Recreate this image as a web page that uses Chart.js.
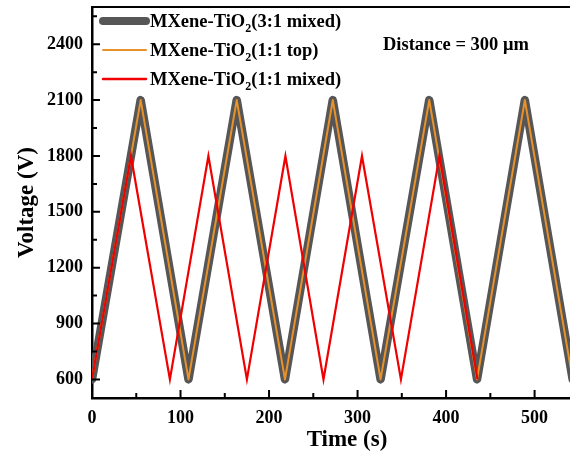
<!DOCTYPE html>
<html>
<head>
<meta charset="utf-8">
<script src="https://cdn.jsdelivr.net/npm/chart.js@4.4.1/dist/chart.umd.min.js"></script>
<style>
body{margin:0;background:#fff}
#wrap{width:570px;height:455px}
</style>
</head>
<body>
<div id="wrap"><canvas id="myChart" width="570" height="455"></canvas></div>
<script>
// data
var grayTime=[0,55,109,163.5,218,272,326,381,435,489,543]
var grayVolt=[600,2100,600,2100,600,2100,600,2100,600,2100,600]
var orangeTime=[0,55,109,163.5,218,272,326,381,435,489,543]
var orangeVolt=[600,2100,600,2100,600,2100,600,2100,600,2100,600]
var redTime=[0,44,88,131.5,175,218.5,261.5,305,349,392.5,435.5]
var redVolt=[600,1800,600,1800,600,1800,600,1800,600,1800,600]

var xTicks=[0,100,200,300,400,500]
var xMinor=[50,150,250,350,450]
var yTicks=[600,900,1200,1500,1800,2100,2400]
var yMinor=[750,1050,1350,1650,1950,2250,2550]

var serif="'Liberation Serif','Times New Roman',serif"

function pts(xs,ys){
    return xs.map(function(x,i){return {x:x,y:ys[i]}})
}

//Frame, inward ticks, legend and notes
var extras={
    id:'extras',
    afterDraw:function(chart){
        var c=chart.ctx, a=chart.chartArea, xs=chart.scales.x, ys=chart.scales.y
        c.save()
        c.strokeStyle='#000'
        c.lineWidth=2
        c.beginPath()
        c.moveTo(a.left-1,a.top)
        c.lineTo(a.right,a.top)
        xTicks.forEach(function(v){var p=xs.getPixelForValue(v);c.moveTo(p,a.bottom);c.lineTo(p,a.bottom-8)})
        xMinor.forEach(function(v){var p=xs.getPixelForValue(v);c.moveTo(p,a.bottom);c.lineTo(p,a.bottom-5)})
        yTicks.forEach(function(v){var p=ys.getPixelForValue(v);c.moveTo(a.left,p);c.lineTo(a.left+8,p)})
        yMinor.forEach(function(v){var p=ys.getPixelForValue(v);c.moveTo(a.left,p);c.lineTo(a.left+5,p)})
        c.stroke()

        // legend
        var rows=[27,56,85]
        chart.data.datasets.forEach(function(ds,i){
            var base=rows[i]
            c.beginPath()
            c.strokeStyle=ds.borderColor
            c.lineWidth=ds.legendWidth
            c.lineCap='round'
            c.moveTo(103,base-6)
            c.lineTo(146,base-6)
            c.stroke()
            var parts=ds.label.split('\u2082')
            c.fillStyle='#000'
            c.textBaseline='alphabetic'
            c.textAlign='left'
            c.font='bold 18.5px '+serif
            var x=150
            c.fillText(parts[0],x,base)
            x+=c.measureText(parts[0]).width
            c.font='bold 12px '+serif
            c.fillText('2',x,base+5)
            x+=c.measureText('2').width
            c.font='bold 18.5px '+serif
            c.fillText(parts[1],x,base)
        })

        c.font='bold 18.5px '+serif
        c.fillText('Distance = 300 \u03bcm',383,50)

        c.font='bold 23px '+serif
        c.textAlign='center'
        c.fillText('Time (s)',347,446)
        c.restore()
    }
}

var ctx=document.getElementById('myChart')

new Chart(ctx,{
    type:'line',
    data:{
        datasets:[
            {
                label:'MXene-TiO\u2082(3:1 mixed)',
                data:pts(grayTime,grayVolt),
                borderColor:'#565656',
                borderWidth:8.5,
                legendWidth:8,
                borderCapStyle:'round',
                borderJoinStyle:'round',
                pointRadius:0,
                order:3
            },
            {
                label:'MXene-TiO\u2082(1:1 top)',
                data:pts(orangeTime,orangeVolt),
                borderColor:'#e8922a',
                borderWidth:2,
                legendWidth:2,
                borderJoinStyle:'round',
                pointRadius:0,
                order:2
            },
            {
                label:'MXene-TiO\u2082(1:1 mixed)',
                data:pts(redTime,redVolt),
                borderColor:'#f00000',
                borderWidth:2.2,
                legendWidth:2.5,
                borderJoinStyle:'miter',
                pointRadius:0,
                order:1
            }
        ]
    },
    options:{
        responsive:false,
        animation:false,
        layout:{padding:{top:7,right:0,left:0,bottom:0}},
        plugins:{
            legend:{display:false},
            tooltip:{enabled:false}
        },
        scales:{
            x:{
                type:'linear',
                min:0,
                max:540,
                afterBuildTicks:function(s){s.ticks=xTicks.map(function(v){return {value:v}})},
                afterFit:function(s){s.height=57;s.paddingLeft=0;s.paddingRight=0},
                grid:{display:false,drawTicks:false},
                border:{display:true,color:'#000',width:2.5},
                ticks:{color:'#000',padding:10,maxRotation:0,callback:function(v){return String(v)},font:{family:serif,size:18,weight:'bold'}}
            },
            y:{
                type:'linear',
                min:500,
                max:2600,
                afterBuildTicks:function(s){s.ticks=yTicks.map(function(v){return {value:v}})},
                afterFit:function(s){s.width=92;s.paddingTop=0;s.paddingBottom=0},
                grid:{display:false,drawTicks:false},
                border:{display:true,color:'#000',width:2.5},
                ticks:{color:'#000',padding:9,callback:function(v){return String(v)},font:{family:serif,size:18,weight:'bold'}},
                title:{
                    display:true,
                    text:'Voltage (V)',
                    color:'#000',
                    padding:{top:13,bottom:0},
                    font:{family:serif,size:23,weight:'bold'}
                }
            }
        }
    },
    plugins:[extras]
})
</script>
</body>
</html>
